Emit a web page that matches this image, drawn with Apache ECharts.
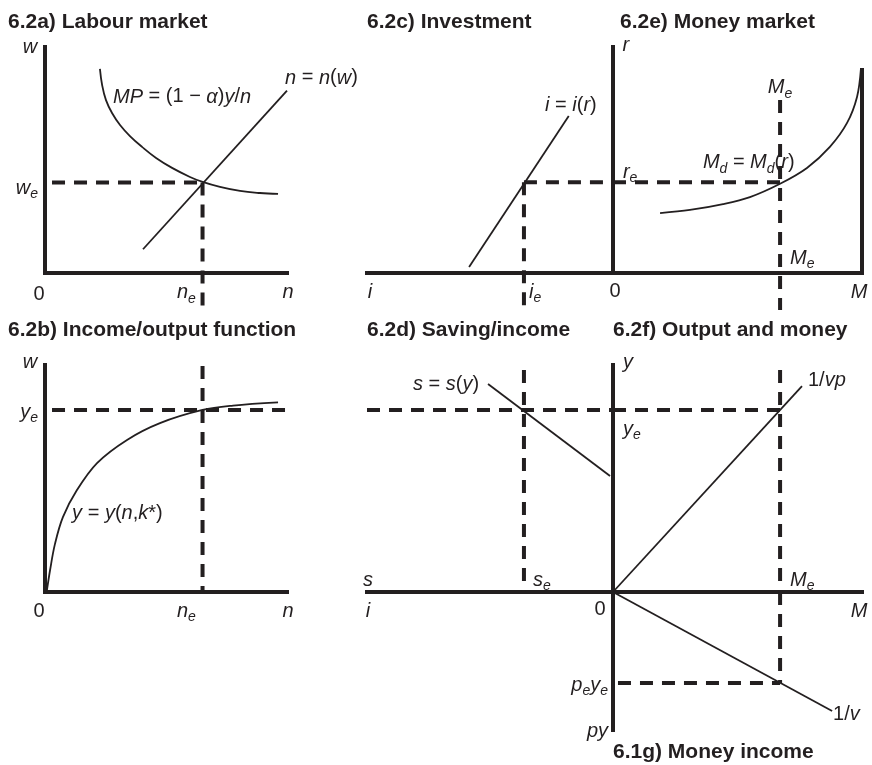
<!DOCTYPE html>
<html>
<head>
<meta charset="utf-8">
<script src="https://cdn.jsdelivr.net/npm/echarts@6/dist/echarts.min.js"></script>
<style>
  html, body { margin: 0; padding: 0; background: #ffffff; }
  #chart { width: 872px; height: 765px; }
</style>
</head>
<body>
<div id="chart"></div>
<script>
// Classical model in seven linked panels. Every panel uses axis units 0–10.

// 6.2a) Labour market: marginal product of labour and labour supply
const mpCurve = [[2.27, 9.03], [2.36, 8.32], [2.52, 7.65], [2.77, 7.08], [3.10, 6.55], [3.51, 6.06],
                 [4.01, 5.58], [4.59, 5.09], [5.25, 4.65], [5.99, 4.25], [6.51, 4.03], [7.23, 3.81],
                 [8.06, 3.63], [8.88, 3.54], [9.63, 3.50]];
const labourSupply = [[4.05, 1.05], [10.0, 8.07]];
const nE = 6.51;
const wE = 4.0;

// 6.2b) Income/output function y = y(n, k*)
const outputCurve = [[0.08, 0.08], [0.21, 0.97], [0.41, 2.11], [0.74, 3.30], [1.32, 4.49], [2.15, 5.68],
                     [3.39, 6.70], [4.75, 7.44], [6.51, 8.02], [7.77, 8.21], [9.63, 8.35]];
const yE = 8.02;

// 6.2c) Investment schedule i = i(r)
const investLine = [[5.85, 0.27], [1.8, 6.95]];
const rE = 4.02;
const iE = 3.62;

// 6.2d) Saving schedule s = s(y)
const savingLine = [[5.08, 9.16], [0.12, 5.11]];

// 6.2e) Money demand Md = Md(r)
const moneyDemand = [[1.89, 2.65], [3.09, 2.79], [4.42, 3.05], [5.50, 3.36], [6.71, 3.95], [7.79, 4.65],
                     [8.71, 5.58], [9.40, 6.64], [9.80, 7.79], [9.96, 9.07]];
const moneyLimit = [[10, 0], [10, 9.07]];
const mE = 6.71;

// 6.2f) Output and money (ray 1/vp) and 6.1g) Money income (ray 1/v)
const vpRay = [[0, 0], [7.59, 9.07]];
const vRay = [[0, 0], [8.80, 8.62]];
const pyE = 6.59;

// ---------------------------------------------------------------------------

const FONT = '"Liberation Sans", Arial, Helvetica, sans-serif';
const INK = '#231f20';

// grid order: 0 = a, 1 = b, 2 = c, 3 = d, 4 = e, 5 = f, 6 = g
const grids = [
  { left: 45,  top: 47,  width: 242, height: 226 },
  { left: 45,  top: 365, width: 242, height: 227 },
  { left: 367, top: 47,  width: 246, height: 226 },
  { left: 367, top: 365, width: 246, height: 227 },
  { left: 613, top: 47,  width: 249, height: 226 },
  { left: 613, top: 365, width: 249, height: 227 },
  { left: 613, top: 592, width: 249, height: 138 }
];

const axisLineStyle = { color: INK, width: 4, cap: 'square' };
function axis(gridIndex, extra) {
  return Object.assign({
    type: 'value', gridIndex: gridIndex, min: 0, max: 10,
    axisTick: { show: false }, axisLabel: { show: false }, splitLine: { show: false },
    axisLine: { show: true, onZero: false, lineStyle: axisLineStyle }
  }, extra || {});
}

const xAxes = [axis(0), axis(1), axis(2, { inverse: true }), axis(3, { inverse: true }),
               axis(4), axis(5), axis(6, { show: false, position: 'top' })];
const yAxes = [axis(0), axis(1), axis(2, { show: false, position: 'right' }), axis(3, { show: false, position: 'right' }),
               axis(4), axis(5), axis(6, { inverse: true })];

const curveStyle = { color: INK, width: 1.8 };
const wallStyle = { color: INK, width: 4 };
const dashStyle = { color: INK, width: 4, type: [13, 9] };

function line(gridIndex, data, style, smooth) {
  return {
    type: 'line', xAxisIndex: gridIndex, yAxisIndex: gridIndex, data: data,
    symbol: 'none', smooth: smooth || false, clip: false, silent: true,
    lineStyle: style, z: style.type ? 3 : 4
  };
}

// rich text: i = italic symbol, u = upright, s = subscript
const textBase = { fontFamily: FONT, color: INK, textBorderWidth: 0, textShadowBlur: 0 };
const rich = {
  i: Object.assign({ fontSize: 20, fontStyle: 'italic', lineHeight: 26 }, textBase),
  u: Object.assign({ fontSize: 20, lineHeight: 26 }, textBase),
  s: Object.assign({ fontSize: 14, fontStyle: 'italic', verticalAlign: 'bottom' }, textBase)
};

function labels(gridIndex, items) {
  return {
    type: 'scatter', xAxisIndex: gridIndex, yAxisIndex: gridIndex,
    symbolSize: 0.01, itemStyle: { color: INK, opacity: 1 }, clip: false, silent: true, z: 6,
    data: items.map(function (it) {
      return {
        value: [it[0], it[1]],
        label: Object.assign({
          show: true, position: [0, 0], formatter: it[2], rich: rich,
          align: it[3] || 'center', verticalAlign: 'middle', lineHeight: 26, fontSize: 20
        }, textBase)
      };
    })
  };
}

// dashed guide extents beyond the plotted curves (axis units)
const belowTop = -1.64;   // guides crossing under the upper axes
const lowerTop = 9.78;    // top end of the guides in the lower row
const guideStart = 0.29;  // gap kept next to the vertical axes

const series = [
  // a) labour market
  line(0, mpCurve, curveStyle, 0.4),
  line(0, labourSupply, curveStyle),
  line(0, [[guideStart, wE], [nE, wE]], dashStyle),
  line(0, [[nE, wE], [nE, belowTop]], dashStyle),
  labels(0, [
    [-0.62, 10.0, '{i|w}'],
    [-0.29, 3.76, '{i|w}{s|e}', 'right'],
    [-0.25, -0.97, '{u|0}'],
    [5.45, -0.88, '{i|n}{s|e}', 'left'],
    [10.04, -0.88, '{i|n}'],
    [2.81, 7.79, '{i|MP}{u| = (1 − }{i|α}{u|)}{i|y}{u|/}{i|n}', 'left'],
    [9.92, 8.63, '{i|n}{u| = }{i|n}{u|(}{i|w}{u|)}', 'left']
  ]),

  // b) income/output function
  line(1, outputCurve, curveStyle, 0.35),
  line(1, [[guideStart, yE], [13.31, yE]], dashStyle),
  line(1, [[nE, 9.96], [nE, 0]], dashStyle),
  labels(1, [
    [-0.62, 10.13, '{i|w}'],
    [-0.29, 7.93, '{i|y}{s|e}', 'right'],
    [-0.25, -0.84, '{u|0}'],
    [5.45, -0.84, '{i|n}{s|e}', 'left'],
    [10.04, -0.84, '{i|n}'],
    [1.12, 3.48, '{i|y}{u| = }{i|y}{u|(}{i|n}{u|,}{i|k}{u|*)}', 'left']
  ]),

  // c) investment
  line(2, investLine, curveStyle),
  line(2, [[iE, rE], [0, rE]], dashStyle),
  line(2, [[iE, rE], [iE, belowTop]], dashStyle),
  labels(2, [
    [9.88, -0.84, '{i|i}'],
    [3.41, -0.84, '{i|i}{s|e}', 'left'],
    [2.76, 7.43, '{i|i}{u| = }{i|i}{u|(}{i|r}{u|)}', 'left']
  ]),

  // d) saving/income
  line(3, savingLine, curveStyle),
  line(3, [[10, yE], [0, yE]], dashStyle),
  line(3, [[iE, lowerTop], [iE, 0]], dashStyle),
  labels(3, [
    [9.96, 0.53, '{i|s}'],
    [3.25, 0.53, '{i|s}{s|e}', 'left'],
    [9.96, -0.84, '{i|i}'],
    [8.13, 9.16, '{i|s}{u| = }{i|s}{u|(}{i|y}{u|)}', 'left']
  ]),

  // e) money market
  line(4, moneyDemand, curveStyle, 0.35),
  line(4, moneyLimit, wallStyle),
  line(4, [[0, rE], [mE, rE]], dashStyle),
  line(4, [[mE, 7.65], [mE, belowTop]], dashStyle),
  labels(4, [
    [0.52, 10.09, '{i|r}'],
    [0.40, 4.47, '{i|r}{s|e}', 'left'],
    [6.22, 8.19, '{i|M}{s|e}', 'left'],
    [3.61, 4.87, '{i|M}{s|d}{u| = }{i|M}{s|d}{u|(}{i|r}{u|)}', 'left'],
    [7.11, 0.66, '{i|M}{s|e}', 'left'],
    [0.08, -0.84, '{u|0}'],
    [9.88, -0.88, '{i|M}']
  ]),

  // f) output and money
  line(5, vpRay, curveStyle),
  line(5, [[0, yE], [mE, yE]], dashStyle),
  line(5, [[mE, lowerTop], [mE, 0]], dashStyle),
  labels(5, [
    [0.60, 10.13, '{i|y}'],
    [0.40, 7.18, '{i|y}{s|e}', 'left'],
    [7.11, 0.53, '{i|M}{s|e}', 'left'],
    [-0.52, -0.79, '{u|0}'],
    [9.88, -0.84, '{i|M}'],
    [7.83, 9.30, '{u|1/}{i|vp}', 'left']
  ]),

  // g) money income
  line(6, vRay, curveStyle),
  line(6, [[0.2, pyE], [mE, pyE]], dashStyle),
  line(6, [[mE, 0], [mE, pyE]], dashStyle),
  labels(6, [
    [-0.2, 6.74, '{i|p}{s|e}{i|y}{s|e}', 'right'],
    [-0.2, 10.07, '{i|py}', 'right'],
    [8.84, 8.84, '{u|1/}{i|v}', 'left']
  ])
];

const titleStyle = { fontFamily: FONT, fontSize: 21, fontWeight: 'bold', color: INK };
function title(text, left, top) {
  return { text: text, left: left, top: top, padding: 0, textStyle: titleStyle };
}

const chart = echarts.init(document.getElementById('chart'), null, { renderer: 'canvas' });
chart.setOption({
  backgroundColor: '#ffffff',
  animation: false,
  title: [
    title('6.2a) Labour market', 8, 12),
    title('6.2c) Investment', 367, 12),
    title('6.2e) Money market', 620, 12),
    title('6.2b) Income/output function', 8, 320),
    title('6.2d) Saving/income', 367, 320),
    title('6.2f) Output and money', 613, 320),
    title('6.1g) Money income', 613, 742)
  ],
  grid: grids,
  xAxis: xAxes,
  yAxis: yAxes,
  series: series
});
</script>
</body>
</html>
